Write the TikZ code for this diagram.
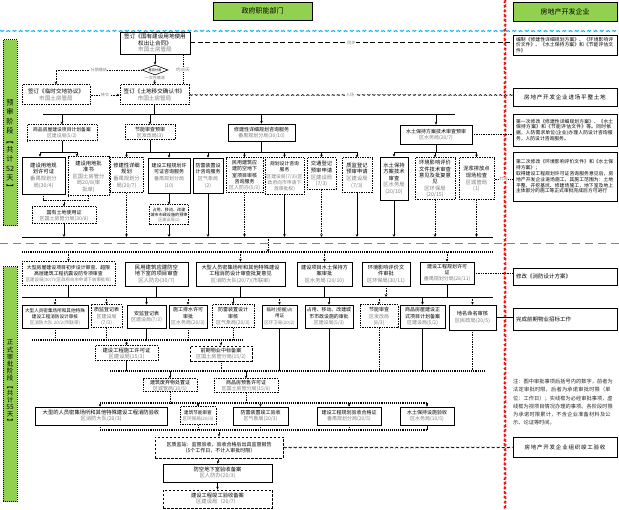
\documentclass[tikz,border=0pt]{standalone}
\usepackage{fontspec}
\setmainfont{Noto Sans CJK SC}
\XeTeXlinebreaklocale "zh"
\XeTeXlinebreakskip=0pt plus 1pt
\usetikzlibrary{arrows.meta,shapes.geometric,decorations.pathmorphing}
\definecolor{hgreen}{HTML}{92D050}
\definecolor{lcyan}{HTML}{00B0F0}
\definecolor{dgray}{HTML}{7F7F7F}
\newcommand\dep[1]{{\color{dgray}#1}}
\newcommand\fsz[2]{\fontsize{#1}{#2}\selectfont}
\newcommand\bx[7]{%
  \pgfmathsetmacro\bxw{#4-#2}%
  \pgfmathsetmacro\bxh{#5-#3}%
  \pgfmathsetmacro\bxcx{(#2+#4)/2}%
  \pgfmathsetmacro\bxcy{(#3+#5)/2}%
  \node[#6, minimum width=\bxw pt, minimum height=\bxh pt] (#1) at (\bxcx,\bxcy) {#7};}
\tikzset{
  hdr/.style={draw, line width=0.8pt, fill=hgreen, font=\fsz{7}{8}, inner sep=1pt},
  stage/.style={draw, densely dotted, line width=1pt, fill=hgreen},
  stagetext/.style={align=center, inner sep=0pt},
  bxs/.style={draw, line width=0.7pt, fill=white, align=center, inner xsep=1pt, inner ysep=0.5pt, font=\fsz{5}{6}},
  bxd/.style={bxs, densely dotted, line width=1pt},
  bxdash/.style={bxs, dash pattern=on 2.5pt off 1.5pt, line width=0.9pt},
  dbox/.style={draw, line width=0.8pt, fill=white, align=left, text width=98pt, inner xsep=2pt, inner ysep=1pt, font=\fsz{4.8}{5.8}},
  ln/.style={draw, line width=0.7pt},
  arr/.style={ln, -{Stealth[length=2.8pt,width=2.6pt]}},
  dl/.style={ln, densely dotted, line width=0.9pt},
  darr/.style={dl, -{Stealth[length=2.8pt,width=2.6pt]}},
  bus/.style={draw, line width=0.9pt},
  dbus/.style={draw, densely dotted, line width=1.1pt},
  lbl/.style={font=\fsz{4}{4.5}, text=dgray, fill=white, inner sep=0.6pt},
  wavy/.style={draw, line width=0.6pt, dash pattern=on 4pt off 2.5pt, decorate, decoration={snake, amplitude=0.5pt, segment length=2.5pt}},
}
\begin{document}
\begin{tikzpicture}[x=1pt,y=-1pt]
\useasboundingbox (0,0) rectangle (619,510);
\fill[white] (0,0) rectangle (619,510);

% separators
\draw[lcyan, line width=0.9pt, dash pattern=on 5pt off 3pt, decorate, decoration={snake,amplitude=0.5pt,segment length=2.5pt}] (0,31) -- (619,31);
\draw[lcyan, line width=1pt, dash pattern=on 8pt off 5pt] (0,244) -- (619,244);
\draw[red, line width=1.1pt, dash pattern=on 5pt off 4pt, decorate, decoration={zigzag,amplitude=0.6pt,segment length=1.5pt}] (505,0) -- (505,510);

% headers
\bx{hg}{213}{2}{312}{20}{hdr}{政府职能部门}
\bx{hd}{513}{2}{617}{21}{hdr}{房地产开发企业}

% stage bars
\bx{st1}{3}{40}{17}{226}{stage}{}
\node[stagetext, font=\fsz{7.2}{9.4}] (st1t) at (10,145) {预\\审\\阶\\段\\︻\\共\\计\\52\\天\\︼};
\bx{st2}{3}{267}{17}{502}{stage}{}
\node[stagetext, font=\fsz{6.5}{7.2}] (st2t) at (10,382) {正\\式\\审\\批\\阶\\段\\︻\\共\\计\\55\\天\\︼};

% ---------- pre-approval ----------
\bx{A}{120}{32}{190}{54}{bxs, font=\fsz{5.6}{6.8}}{签订《国有建设用地使用\\权出让合同》\\\dep{市国土房管局}}
\node[draw, diamond, aspect=2.6, inner sep=0pt, minimum width=26pt, minimum height=10pt, line width=0.6pt, fill=white, font=\fsz{3.2}{3.5}] (D) at (155,70) {是否付清};
\bx{B}{22}{85}{90}{105}{bxd, font=\fsz{5.6}{6.8}}{签订《临时交地协议》\\\dep{市国土房管局}}
\bx{C}{120}{85}{189}{105}{bxd, font=\fsz{5.6}{6.8}}{签订《土地移交确认书》\\\dep{市国土房管局}}

\bx{dev1}{513}{35}{617}{55}{dbox}{编制《修建性详细规划方案》、《环境影响评价文件》、《水土保持方案》和《节能评估文件》}
\bx{dev2}{513}{88}{617}{106}{dbox, align=center, font=\fsz{5.6}{6.5}}{房地产开发企业进场平整土地}

\draw[arr] (A.south) -- (D.north);
\draw[arr] (D.south) -- node[lbl, pos=0.25]{一次性缴清} (C.north);
\draw[darr] (D.west) -- node[lbl]{分期缴纳} (D.west -| B.north) -- (B.north);
\draw[darr] (B.east) -- node[lbl]{移交} (C.west);
\draw[densely dotted, line width=0.9pt] (183,55) -- node[lbl, font=\fsz{4.5}{5}]{约30天} (183,84);
\draw[line width=1pt, dash pattern=on 5pt off 2.5pt] (A.east) -- node[lbl]{同步} (A.east -| dev1.west);
\draw[wavy] (C.east) -- (C.east -| dev2.west);
\node[lbl] (lrc) at (350,95) {入场};

% first bus
\coordinate (b1L) at (43,114); \coordinate (b1R) at (455,114);
\draw[bus] (b1L) -- (b1R);
\draw[ln] (C.south) -- (C.south |- b1L);

\bx{E}{27}{125}{97}{141}{bxd, font=\fsz{4.8}{5.8}}{商品房屋建设项目计划备案\\\dep{区建设局(5/2)}}
\bx{F}{125}{125}{175}{140}{bxd}{节能审查预审\\\dep{区发改局(3)}}
\bx{G}{228}{124}{295}{141}{bxs}{修建性详细规划咨询服务\\\dep{番禺规划分局(30/10)}}
\bx{H}{400}{125}{472}{144}{bxs}{水土保持方案技术审查预审\\\dep{区水务局(20/7)}}
\bx{dev3}{513}{114}{617}{146}{dbox}{第一次修改《修建性详细规划方案》、《水土保持方案》和《节能评估文件》等。同时依据，人防需求单位(企业)办理人防设计咨询服务，人防设计咨询服务。}

\draw[arr] (E.north |- b1L) -- (E.north);
\draw[arr] (F.north |- b1L) -- (F.north);
\draw[arr] (G.north |- b1L) -- (G.north);
\draw[arr] (H.north |- b1L) -- (H.north);
\draw[dl] (H.east) -- (H.east -| dev3.west);

% row 3
\bx{E1}{22}{157}{65}{194}{bxs, font=\fsz{5.3}{6.6}}{建设用地规\\划许可证\\\dep{番禺规划分}\\\dep{局(30/4)}}
\bx{E2}{68}{157}{109}{196}{bxd, font=\fsz{5.3}{6.6}}{建设用地批\\准书\\\dep{区国土房管分}\\\dep{局20/8(审}\\\dep{批单)}}
\bx{E3}{32}{207}{96}{224}{bxd, font=\fsz{5}{6}}{国有土地使用证\\\dep{区国土房管分局(30/8)}}
\bx{F1}{110}{158}{143}{193}{bxd, font=\fsz{5.3}{6.6}}{修建性详细\\规划\\\dep{番禺规划分}\\\dep{局(20/7)}}
\bx{F2}{148}{158}{190}{193}{bxs, font=\fsz{5}{6.6}}{建设工程规划许\\可证咨询服务\\\dep{番禺规划分局}\\\dep{(10)}}
\bx{F2a}{150}{205}{188}{225}{bxd, font=\fsz{4.1}{5.2}}{占用、移动、改建\\城市市政设施的预审\\\dep{区建设局(2)}}
\bx{F3}{193}{158}{223}{193}{bxs, font=\fsz{5}{6.6}}{防雷装置设\\计咨询服务\\\dep{区气象局}\\\dep{(2)}}
\bx{F4}{226}{158}{263}{193}{bxd, font=\fsz{5}{6.4}}{民用建筑应\\建防空地下\\室项目审核\\咨询服务\\\dep{区人防办(5/3)}}
\bx{F5}{265}{158}{304}{195}{bxd, font=\fsz{4.8}{6.4}}{规划设计咨询\\服务\\\dep{区建设局(7/3)(区}\\\dep{政府向市申请下}\\\dep{放审批权)}}
\bx{F6}{307}{158}{336}{190}{bxd, font=\fsz{5.3}{6.6}}{交通登记\\预审申请\\\dep{区建设局}\\\dep{(7/3)}}
\bx{F7}{342}{158}{372}{193}{bxd, font=\fsz{5.3}{6.6}}{质监登记\\预审申请\\\dep{区建设局}\\\dep{(7/3)}}
\bx{H1}{380}{157}{408}{200}{bxs, font=\fsz{5.3}{6.6}}{水土保持\\方案技术\\审查\\\dep{区水务局}\\\dep{(20/10)}}
\bx{H2}{415}{158}{455}{200}{bxd, font=\fsz{5.3}{6.4}}{环境影响评价\\文件技术审查\\意见及批复意\\见\\\dep{区环保局}\\\dep{(20/15)}}
\bx{H3}{459}{158}{494}{200}{bxd, font=\fsz{5.3}{6.6}}{泥浆排放点\\现场检查\\\dep{区城管局}\\\dep{(1)}}
\bx{dev4}{513}{152}{617}{201}{dbox}{第二次修改《环境影响评价文件》和《水土保持方案》；\\取得建设工程规划许可证咨询服务意见后，房地产开发企业进场施工，其施工范围为：土地平整、开挖基坑、修建场施工，地下室及地上主体部分的施工等正式审批完成后方可进行}

\draw[dl] (H3.east) -- node[lbl, pos=0.5]{打围} (H3.east -| dev4.west);

% branch buses
\coordinate (b2aL) at (40,152); \coordinate (b2aR) at (77,152);
\draw[bus] (b2aL) -- (b2aR);
\draw[ln] (E.south) -- (E.south |- b2aL);
\draw[arr] (b2aL) -- (b2aL |- E1.north);
\draw[arr] (b2aR) -- (b2aR |- E2.north);

\coordinate (b2bL) at (126.5,152); \coordinate (b2bR) at (357,152);
\draw[bus] (b2bL) -- (b2bR);
\draw[ln] (F.south) -- (F.south |- b2bL);
\draw[ln] (G.south) -- (G.south |- b2bL);
\foreach \n in {F1,F2,F3,F4,F5,F6,F7} \draw[arr] (\n.north |- b2bL) -- (\n.north);

\coordinate (b2cL) at (394,152); \coordinate (b2cR) at (476.5,152);
\draw[bus] (b2cL) -- (b2cR);
\draw[ln] (H.south) -- (H.south |- b2cL);
\foreach \n in {H1,H2,H3} \draw[arr] (\n.north |- b2cL) -- (\n.north);

\coordinate (b2dL) at (43.5,200); \coordinate (b2dR) at (88.5,200);
\draw[dl] (E1.south) -- (b2dL) -- (b2dR);
\draw[dl] (E2.south) -- (b2dR);
\draw[darr] (E3.north |- b2dL) -- (E3.north);
\draw[arr] (F2.south) -- (F2a.north);

\coordinate (b3L) at (22,237); \coordinate (b3R) at (493,237);
\draw[bus] (b3L) -- (b3R);
\foreach \n in {E3,F2a,F3,F5,F7,H1} \draw[arr] (\n.south) -- (\n.south |- b3L);
\foreach \n in {F1,F4,F6,H2,H3} \draw[darr] (\n.south) -- (\n.south |- b3L);

\coordinate (m1) at (268,237); \coordinate (m2) at (268,252);
\draw[darr] (m1) -- (m2);

% ---------- formal approval ----------
\coordinate (b4L) at (22,252); \coordinate (b4R) at (493,252);
\draw[dbus] (b4L) -- (b4R);

\bx{P1}{22}{262}{115}{286}{bxd, font=\fsz{4.9}{6.2}}{大型房屋建设项目初步设计审查、超限\\高层建筑工程抗震设防专项审查\\\dep{\fsz{4.4}{6}区建设局(30/7)(区政府向市申请下放审批权)}}
\bx{P2}{125}{262}{188}{286}{bxs, font=\fsz{5.4}{6.6}}{民用建筑应建防空\\地下室的项目审查\\\dep{区人防办(30/7)}}
\bx{P3}{196}{262}{285}{286}{bxs, font=\fsz{5.2}{6.4}}{大型人员密集场所和其他特殊建设\\工程消防设计审查批复意见\\\dep{区消防大队(20/7)(市联审)}}
\bx{P4}{297}{262}{352}{286}{bxs, font=\fsz{5.2}{6.4}}{建设项目水土保持方\\案审批\\\dep{区水务局 (20/10)}}
\bx{P5}{362}{262}{410}{286}{bxs, font=\fsz{5.2}{6.4}}{环境影响评价文\\件审批\\\dep{区环保局(30/11)}}
\bx{P6}{420}{262}{474}{284}{bxs, font=\fsz{5}{6.2}}{建设工程规划许可\\证\\\dep{番禺规划分局(28/11)}}
\bx{dev5}{513}{268}{617}{285}{dbox, font=\fsz{5.5}{6.5}}{修改《消防设计方案》}
\draw[dl] (P6.east) -- (P6.east -| dev5.west);

\foreach \n in {P1,P3,P4,P6} \draw[darr] (\n.north |- b4L) -- (\n.north);

\coordinate (b5L) at (22,297); \coordinate (b5R) at (493,297);
\draw[bus] (b5L) -- (b5R);
\foreach \n in {P1,P2,P3,P4,P6} \draw[ln] (\n.south) -- (\n.south |- b5L);
\draw[darr] (P5.south) -- (P5.south |- b5L);

\bx{Q1}{22}{305}{88}{328}{bxs, font=\fsz{4.6}{6}}{大型人员密集场所和其他特殊\\建设工程消防设计审核\\\dep{区消防大队 20/2(市联审)}}
\bx{Q2}{91}{305}{122}{328}{bxd, font=\fsz{5}{6.2}}{质监登记表\\\dep{区建设局}\\\dep{(7/3)}}
\bx{Q3}{127}{305}{166}{328}{bxs, font=\fsz{5}{6.2}}{安监登记表\\\dep{区建设局(7/3)}}
\bx{Q4}{169}{305}{207}{328}{bxs, font=\fsz{5}{6.2}}{施工排水许可\\审批\\\dep{区水务局(20/3)}}
\bx{Q5}{212}{305}{254}{328}{bxd, font=\fsz{5}{6.2}}{防雷装置设计\\审核\\\dep{区气象局(20/3)}}
\bx{Q6}{262}{305}{297}{328}{bxs, font=\fsz{4.5}{6.2}}{临时(挖掘)占\\用证\\\dep{区环卫局(20/2)}}
\bx{Q7}{305}{305}{353}{328}{bxs, font=\fsz{4.9}{6.2}}{占用、移动、改建城\\市市政设施的审批\\\dep{区建设局(5/3)}}
\bx{Q8}{360}{305}{398}{328}{bxd, font=\fsz{5}{6.2}}{节能审查\\\dep{区发改局}\\\dep{(8/3)}}
\bx{Q9}{400}{305}{445}{328}{bxs, font=\fsz{5}{6.2}}{商品房屋建设正\\式项目计划备案\\\dep{区建设局(5/2)}}
\bx{Q10}{449}{305}{496}{330}{bxs, font=\fsz{5.2}{6.6}}{地名命名审核\\\dep{区民政局(20/5)}}
\bx{dev6}{513}{308}{617}{330}{dbox, font=\fsz{5.5}{6.5}}{完成前期物业招标工作}
\draw[ln] (Q10.east) -- (Q10.east -| dev6.west);

\foreach \n in {Q3,Q5,Q7,Q9} \draw[arr] (\n.north |- b5L) -- (\n.north);
\foreach \n in {Q1,Q2,Q4,Q6,Q8,Q10} \draw[darr] (\n.north |- b5L) -- (\n.north);

\coordinate (b6L) at (32,340); \coordinate (b6R) at (243,340);
\draw[dbus] (b6L) -- (b6R);
\foreach \n in {Q1,Q2,Q4,Q5} \draw[dl] (\n.south) -- (\n.south |- b6L);
\draw[ln] (Q3.south) -- (Q3.south |- b6L);

\bx{R1}{95}{346}{158}{361}{bxd, font=\fsz{5.3}{6.4}}{建设工程施工许可证\\\dep{区建设局(15/3)}}
\bx{R2}{190}{346}{252}{361}{bxdash, font=\fsz{5.1}{6.2}}{前期物业中标备案\\\dep{区国土房管分局(15/2)}}
\draw[darr] (R1.north |- b6L) -- (R1.north);
\draw[darr] (R2.north |- b6L) -- (R2.north);

\coordinate (b7L) at (110,371); \coordinate (b7R) at (485,371);
\draw[dbus] (b7L) -- (b7R);
\foreach \n in {Q6,Q7,Q9,R1} \draw[ln] (\n.south) -- (\n.south |- b7L);
\foreach \n in {Q8,Q10,R2} \draw[dl] (\n.south) -- (\n.south |- b7L);

\bx{S1}{143}{379}{197}{392}{bxd, font=\fsz{5}{6}}{建筑废弃物处置证\\\dep{区城管局(10/5)}}
\bx{S2}{214}{379}{278}{393}{bxd, font=\fsz{5}{6}}{商品房预售许可证\\\dep{区国土房管分局(15/8)}}
\draw[arr] (S1.north |- b7L) -- (S1.north);
\draw[arr] (S2.north |- b7L) -- (S2.north);

\coordinate (b8L) at (100,403); \coordinate (b8R) at (427,403);
\draw[dbus] (b8L) -- (b8R);
\draw[dl] (S1.south) -- (S1.south |- b8L);
\draw[dl] (S2.south) -- (S2.south |- b8L);

\bx{T1}{35}{407}{167}{425}{bxs, font=\fsz{5.3}{6.4}}{大型的人员密集场所和其他特殊建设工程消防验收\\\dep{区消防大队(20/3)}}
\bx{T2}{180}{407}{216}{425}{bxd, font=\fsz{4.6}{6}}{建筑节能审查\\\dep{区环保局(20/3)}}
\bx{T3}{233}{407}{288}{425}{bxs, font=\fsz{5}{6.2}}{防雷装置竣工验收\\\dep{区气象局(20/3)}}
\bx{T4}{317}{407}{381}{425}{bxs, font=\fsz{5}{6.2}}{建设工程规划验收合格证\\\dep{番禺规划分局(20/5)}}
\bx{T5}{400}{407}{454}{425}{bxs, font=\fsz{5}{6.2}}{水土保持设施验收\\\dep{区水务局(10/5)}}
\draw[darr] (b8L) -- (b8L |- T1.north);
\foreach \n in {T2,T3,T4} \draw[darr] (\n.north |- b8L) -- (\n.north);
\draw[arr] (b8R) -- (b8R |- T5.north);

\coordinate (b9L) at (100,430); \coordinate (b9R) at (427,430);
\draw[dbus] (b9L) -- (b9R);
\draw[dl] (b8L |- T1.south) -- (b9L);
\foreach \n in {T2,T3,T4} \draw[dl] (\n.south) -- (\n.south |- b9L);
\draw[ln] (b9R |- T5.south) -- (b9R);

\bx{U}{155}{437}{283}{458}{bxdash, font=\fsz{5}{6.4}}{区质监站：监督验收，验收合格后出具监督报告\\（5个工作日，不计入审批时限）}
\bx{dev7}{513}{437}{617}{457}{dbox, align=center, font=\fsz{5.5}{6.5}}{房地产开发企业组织竣工验收}
\draw[darr] (U.north |- b9L) -- (U.north);
\draw[wavy] (U.east) -- (U.east -| dev7.west);

\bx{V}{163}{464}{272}{482}{bxs, font=\fsz{5.3}{6.4}}{防空地下室验收备案\\\dep{区人防办(20/3)}}
\bx{W}{163}{490}{272}{508}{bxdash, font=\fsz{5.3}{6.4}}{建设工程竣工验收备案\\\dep{区建设局（20/7）}}
\draw[arr] (U.south) -- (V.north);
\draw[arr] (V.south) -- (W.north);

\node[align=left, text width=100pt, font=\fsz{5.2}{8.2}, anchor=north west, inner sep=0pt, text=black!85] (note) at (513,379) {注：图中审批事项后括号内的数字，前者为法定审批时限，后者为承诺审批时限（单位：工作日）；实线框为必经审批事项，虚线框为视项目情况办理的事项。各阶段时限为承诺时限累计，不含企业准备材料及公示、论证等时间。};
\end{tikzpicture}
\end{document}
